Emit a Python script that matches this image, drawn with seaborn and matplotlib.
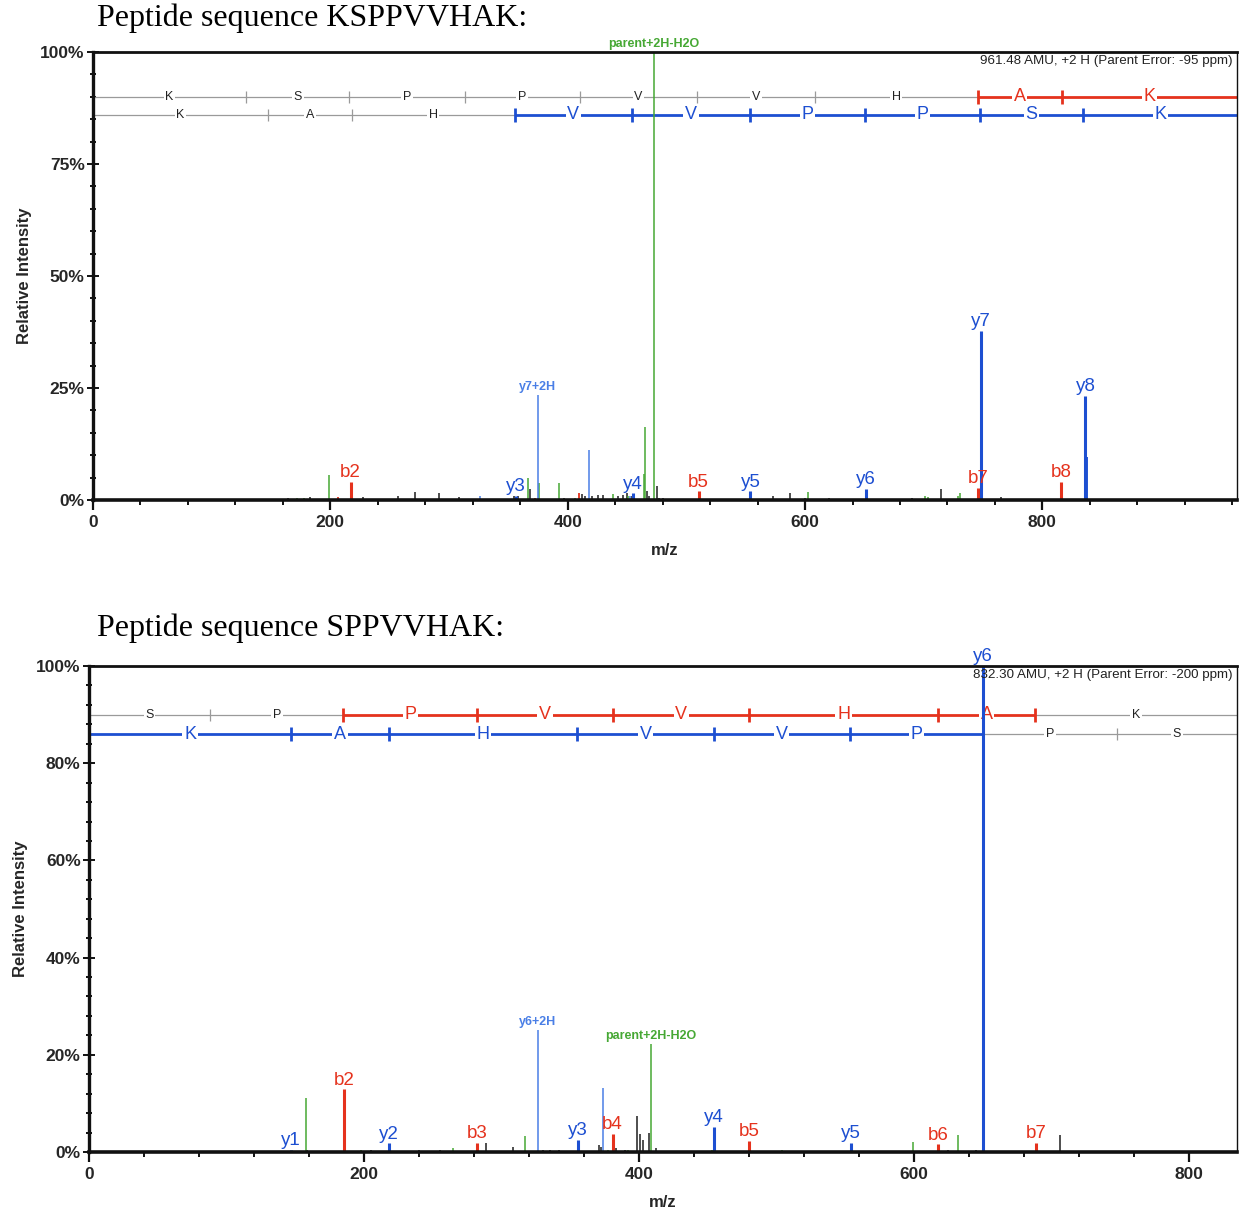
import numpy as np
import pandas as pd
import seaborn as sns
import matplotlib
matplotlib.use("Agg")
import matplotlib.pyplot as plt
from matplotlib.ticker import MultipleLocator, FixedLocator, FuncFormatter

# ---------------- data: top spectrum (KSPPVVHAK) ----------------
TOP_TITLE = "Peptide sequence KSPPVVHAK:"
TOP_INFO = "961.48 AMU, +2 H (Parent Error: -95 ppm)"
TOP_XMAX = 964

TOP_B_MZ = [217.1, 510.3, 745.9, 816.0]
TOP_B_INT = [4.0, 1.9, 2.7, 4.1]
TOP_B_LBL = ["b2", "b5", "b7", "b8"]
TOP_BX_MZ = [206.5, 372.5, 409.9]          # unlabeled red
TOP_BX_INT = [0.6, 0.4, 1.5]

TOP_Y_MZ = [356.5, 455.0, 554.0, 651.3, 748.5, 836.3]
TOP_Y_INT = [1.0, 1.5, 1.9, 2.5, 37.8, 23.3]
TOP_Y_LBL = ["y3", "y4", "y5", "y6", "y7", "y8"]
TOP_YX_MZ = [836.8]                          # unlabeled strong blue
TOP_YX_INT = [9.6]

TOP_LB_MZ = [326.4, 374.7, 418.3, 452.6]
TOP_LB_INT = [1.0, 23.4, 11.2, 1.0]
TOP_LB_LBL = ["", "y7+2H", "", ""]

TOP_G_MZ = [172.0, 177.6, 199.0, 242.7, 366.3, 375.6, 392.5, 406.2, 438.5, 451.0,
            464.3, 465.4, 472.7, 602.5, 701.0, 704.0, 729.0, 731.0]
TOP_G_INT = [0.5, 0.4, 5.6, 0.3, 4.9, 3.8, 3.9, 0.5, 1.3, 1.0,
             5.7, 16.4, 100.0, 1.8, 1.0, 0.7, 1.0, 1.5]
TOP_G_LBL = [""] * 12 + ["parent+2H-H2O"] + [""] * 5

TOP_K_MZ = [157.6, 164.0, 182.6, 227.6, 256.8, 271.4, 291.9, 308.7, 334.6, 354.5,
            358.5, 368.3, 397.0, 411.8, 414.7, 420.2, 425.8, 429.5, 442.8, 446.9,
            449.8, 453.9, 466.5, 468.7, 474.9, 477.2, 480.6, 573.0, 587.0, 600.0,
            620.0, 690.0, 714.4, 765.0]
TOP_K_INT = [0.3, 0.4, 0.7, 0.7, 0.9, 1.8, 1.6, 0.6, 0.3, 1.0,
             0.8, 2.5, 0.5, 1.3, 0.8, 1.0, 1.2, 1.2, 0.8, 1.2,
             1.5, 1.0, 2.0, 1.0, 3.1, 0.5, 0.5, 0.8, 1.5, 0.5,
             0.5, 0.5, 2.4, 0.6]

TOP_B_RES = list("KSPPVVHAK")
TOP_B_BREAKS = [0, 129.1, 216.1, 313.2, 410.2, 509.3, 608.4, 745.4, 816.5, 964]
TOP_B_MATCH = [0, 0, 0, 0, 0, 0, 0, 1, 1]
TOP_Y_RES = list("KAHVVPPSK")
TOP_Y_BREAKS = [0, 147.1, 218.1, 355.2, 454.3, 553.4, 650.4, 747.5, 834.5, 964]
TOP_Y_MATCH = [0, 0, 0, 1, 1, 1, 1, 1, 1]

# ---------------- data: bottom spectrum (SPPVVHAK) ----------------
BOT_TITLE = "Peptide sequence SPPVVHAK:"
BOT_INFO = "832.30 AMU, +2 H (Parent Error: -200 ppm)"
BOT_XMAX = 835

BOT_B_MZ = [185.7, 282.4, 380.8, 480.2, 617.7, 688.7]
BOT_B_INT = [12.9, 1.9, 3.8, 2.3, 1.6, 1.9]
BOT_B_LBL = ["b2", "b3", "b4", "b5", "b6", "b7"]
BOT_BX_MZ = []
BOT_BX_INT = []

BOT_Y_MZ = [147.1, 218.4, 355.9, 454.4, 554.0, 650.5]
BOT_Y_INT = [0.4, 1.8, 2.5, 5.2, 1.9, 100.0]
BOT_Y_LBL = ["y1", "y2", "y3", "y4", "y5", "y6"]
BOT_YX_MZ = []
BOT_YX_INT = []

BOT_LB_MZ = [326.3, 374.0]
BOT_LB_INT = [25.1, 13.1]
BOT_LB_LBL = ["y6+2H", ""]

BOT_G_MZ = [157.6, 172.0, 197.5, 264.5, 317.1, 377.2, 392.0, 408.5, 453.5, 503.8,
            588.0, 599.5, 632.2]
BOT_G_INT = [11.2, 0.3, 0.5, 0.8, 3.2, 0.5, 0.5, 22.2, 0.5, 0.5,
             0.3, 2.1, 3.5]
BOT_G_LBL = [""] * 7 + ["parent+2H-H2O"] + [""] * 5

BOT_K_MZ = [140.0, 145.0, 158.5, 170.0, 193.0, 205.0, 228.0, 240.0, 255.0, 270.0,
            288.7, 308.6, 330.0, 335.0, 342.0, 348.0, 360.0, 371.1, 372.5, 383.0,
            390.0, 398.8, 400.7, 402.7, 407.5, 412.4, 420.0, 470.0, 495.0, 500.0,
            525.0, 530.0, 580.0, 625.0, 645.0, 706.2]
BOT_K_INT = [0.3, 0.3, 0.5, 0.3, 0.3, 0.4, 0.3, 0.5, 0.4, 0.3,
             1.9, 1.0, 0.4, 0.5, 0.5, 0.3, 0.3, 1.5, 1.0, 0.8,
             0.5, 7.4, 3.8, 2.5, 4.0, 0.8, 0.3, 0.3, 0.3, 0.3,
             0.3, 0.3, 0.3, 0.4, 0.5, 3.5]

BOT_B_RES = list("SPPVVHAK")
BOT_B_BREAKS = [0, 88.0, 185.1, 282.1, 381.2, 480.3, 617.4, 688.4, 835]
BOT_B_MATCH = [0, 0, 1, 1, 1, 1, 1, 0]
BOT_Y_RES = list("KAHVVPPS")
BOT_Y_BREAKS = [0, 147.1, 218.1, 355.2, 454.3, 553.4, 650.4, 747.5, 835]
BOT_Y_MATCH = [1, 1, 1, 1, 1, 1, 0, 0]

# ---------------- style ----------------
RED = "#e5321d"
BLUE = "#1d4fd1"
LBLUE = "#4a7fe6"
GREEN = "#46a834"
BLACK = "#1e1e1e"
GRAY = "#9a9a9a"

sns.set_theme(style="white")
plt.rcParams["font.family"] = ["Liberation Sans", "DejaVu Sans"]
SERIF = ["Liberation Serif", "DejaVu Serif"]


def frame(mz, inten, kind, label=None):
    if label is None:
        label = [""] * len(mz)
    return pd.DataFrame({"mz": mz, "intensity": inten, "kind": kind, "label": label})


def draw_ladder(ax, ypos, breaks, residues, matched, color):
    for i, res in enumerate(residues):
        x0, x1 = breaks[i], breaks[i + 1]
        m = bool(matched[i])
        ax.plot([x0, x1], [ypos, ypos], color=color if m else GRAY,
                lw=2.0 if m else 0.9, solid_capstyle="butt", zorder=2)
        ax.text((x0 + x1) / 2, ypos, res, ha="center", va="center",
                color=color if m else "#222222", fontsize=13 if m else 9,
                bbox=dict(fc="white", ec="none", pad=1.2), zorder=2.5)
    for j in range(1, len(breaks) - 1):
        m = bool(matched[j - 1]) or bool(matched[j])
        ax.plot(breaks[j], ypos, marker="|", ms=9.5 if m else 8.5,
                mew=2.0 if m else 0.9, color=color if m else GRAY, zorder=2.6)


def draw_panel(ax, df, xmax, major_y, minor_y, info,
               bl, yl):
    sty = {"k": (BLACK, 1.1), "g": (GREEN, 1.1), "lb": (LBLUE, 1.1),
           "bx": (RED, 1.3), "b": (RED, 2.2), "y": (BLUE, 2.2), "yx": (BLUE, 2.8)}
    for kind in ["k", "g", "lb", "bx", "yx", "b", "y"]:
        sub = df[df["kind"] == kind]
        if len(sub) == 0:
            continue
        col, lw = sty[kind]
        ax.vlines(sub["mz"], 0, sub["intensity"], colors=col, lw=lw, zorder=3)
    for _, r in df[df["label"] != ""].iterrows():
        kind = r["kind"]
        if kind in ("b", "y"):
            col = RED if kind == "b" else BLUE
            ax.annotate(r["label"], (r["mz"], r["intensity"]), xytext=(0, 0.5),
                        textcoords="offset points", ha="center", va="bottom",
                        color=col, fontsize=13.5, zorder=5, annotation_clip=False)
        else:
            col = GREEN if kind == "g" else LBLUE
            ax.annotate(r["label"], (r["mz"], r["intensity"]), xytext=(0, 1.5),
                        textcoords="offset points", ha="center", va="bottom",
                        color=col, fontsize=9, fontweight="bold", zorder=5,
                        annotation_clip=False)

    draw_ladder(ax, 90, *bl, RED)
    draw_ladder(ax, 86, *yl, BLUE)

    ax.set_xlim(0, xmax)
    ax.set_ylim(0, 100)
    ax.xaxis.set_major_locator(FixedLocator([0, 200, 400, 600, 800]))
    ax.xaxis.set_minor_locator(MultipleLocator(40))
    ax.yaxis.set_major_locator(MultipleLocator(major_y))
    ax.yaxis.set_minor_locator(MultipleLocator(minor_y))
    ax.yaxis.set_major_formatter(FuncFormatter(lambda v, p: f"{v:.0f}%"))
    ax.tick_params(axis="y", which="major", direction="inout", length=8, width=1.4,
                   left=True, labelsize=12.5, pad=2, color="#111111")
    ax.tick_params(axis="y", which="minor", direction="inout", length=4, width=1.4,
                   left=True, color="#111111")
    ax.tick_params(axis="x", which="major", direction="out", length=7, width=1.6,
                   bottom=True, labelsize=12.5, pad=4, color="#111111")
    ax.tick_params(axis="x", which="minor", direction="out", length=3.5, width=1.4,
                   bottom=True, color="#111111")
    for lab in ax.get_xticklabels() + ax.get_yticklabels():
        lab.set_fontweight("bold")
    ax.set_xlabel("m/z", fontsize=12, fontweight="bold", labelpad=9)
    ax.set_ylabel("Relative Intensity", fontsize=12, fontweight="bold", labelpad=6)
    ax.grid(False)
    ax.set_facecolor("white")
    for side, lw in [("left", 2.4), ("bottom", 2.6), ("top", 2.0), ("right", 1.0)]:
        ax.spines[side].set_visible(True)
        ax.spines[side].set_color("#111111")
        ax.spines[side].set_linewidth(lw)
        ax.spines[side].set_zorder(6)
    ax.text(1 - 4 / 1144, 1 - 3 / 448, info, transform=ax.transAxes,
            ha="right", va="top", fontsize=9.6, color="#222222", zorder=6)


top_df = pd.concat([
    frame(TOP_K_MZ, TOP_K_INT, "k"),
    frame(TOP_G_MZ, TOP_G_INT, "g", TOP_G_LBL),
    frame(TOP_LB_MZ, TOP_LB_INT, "lb", TOP_LB_LBL),
    frame(TOP_BX_MZ, TOP_BX_INT, "bx"),
    frame(TOP_YX_MZ, TOP_YX_INT, "yx"),
    frame(TOP_B_MZ, TOP_B_INT, "b", TOP_B_LBL),
    frame(TOP_Y_MZ, TOP_Y_INT, "y", TOP_Y_LBL),
], ignore_index=True)

bot_df = pd.concat([
    frame(BOT_K_MZ, BOT_K_INT, "k"),
    frame(BOT_G_MZ, BOT_G_INT, "g", BOT_G_LBL),
    frame(BOT_LB_MZ, BOT_LB_INT, "lb", BOT_LB_LBL),
    frame(BOT_B_MZ, BOT_B_INT, "b", BOT_B_LBL),
    frame(BOT_Y_MZ, BOT_Y_INT, "y", BOT_Y_LBL),
], ignore_index=True)

W, H = 1244, 1211
fig = plt.figure(figsize=(W / 100, H / 100), dpi=100)
fig.patch.set_facecolor("white")

ax1 = fig.add_axes([93 / W, 1 - 500 / H, (1237 - 93) / W, 448 / H])
ax2 = fig.add_axes([89 / W, 1 - 1152 / H, (1237 - 89) / W, 486 / H])

draw_panel(ax1, top_df, TOP_XMAX, 25, 5, TOP_INFO,
           (TOP_B_BREAKS, TOP_B_RES, TOP_B_MATCH),
           (TOP_Y_BREAKS, TOP_Y_RES, TOP_Y_MATCH))
draw_panel(ax2, bot_df, BOT_XMAX, 20, 4, BOT_INFO,
           (BOT_B_BREAKS, BOT_B_RES, BOT_B_MATCH),
           (BOT_Y_BREAKS, BOT_Y_RES, BOT_Y_MATCH))

fig.text(97 / W, 1 - 18 / H, TOP_TITLE, family=SERIF, fontsize=23,
         ha="left", va="center", color="black")
fig.text(97 / W, 1 - 628 / H, BOT_TITLE, family=SERIF, fontsize=23,
         ha="left", va="center", color="black")

fig.savefig("out.png", dpi=100, facecolor="white")
